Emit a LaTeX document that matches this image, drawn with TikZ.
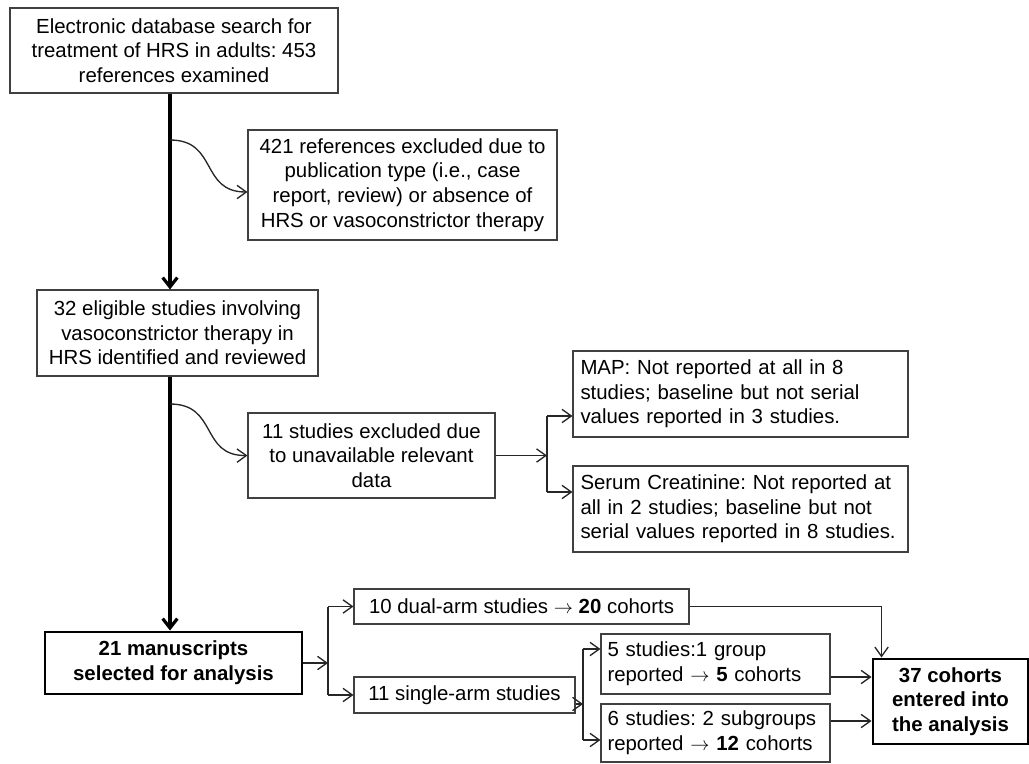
\documentclass[tikz,border=0pt]{standalone}
\usepackage{fontspec}
\setmainfont{Liberation Sans}
\usetikzlibrary{arrows.meta,calc}
\newcommand{\rarr}{ $\rightarrow$ }
\begin{document}
\begin{tikzpicture}[x=0.75pt,y=-0.75pt,
  font=\fontsize{15.3}{18.5}\selectfont\frenchspacing,
  box/.style={draw=black!75, line width=0.8pt, inner sep=0pt, align=center},
  lbox/.style={draw=black!75, line width=0.8pt, inner sep=0pt, align=left},
  tbox/.style={draw=black, line width=2.2pt, inner sep=0pt, align=center, font=\fontsize{15.3}{18.5}\selectfont\frenchspacing\bfseries},
  conn/.style={draw=black!85, line width=1pt, -{Straight Barb[length=7pt,width=10pt]}},
  tconn/.style={draw=black, line width=2.4pt, -{Straight Barb[length=7pt,width=11pt]}},
  plain/.style={draw=black!85, line width=1pt}
]
\useasboundingbox (0,0) rectangle (1029,764);

% boxes
\node[box, minimum width=246pt, minimum height=63.75pt] (b1) at (174,50.5)
  {Electronic database search for\\treatment of HRS in adults: 453\\references examined};
\node[box, minimum width=231.75pt, minimum height=82.5pt] (ex1) at (402.5,185)
  {421 references excluded due to\\publication type (i.e., case\\report, review) or absence of\\HRS or vasoconstrictor therapy};
\node[box, minimum width=210.75pt, minimum height=64.5pt] (b2) at (177.5,333)
  {32 eligible studies involving\\vasoconstrictor therapy in\\HRS identified and reviewed};
\node[box, minimum width=185.25pt, minimum height=63.75pt] (ex2) at (371.5,455.5)
  {11 studies excluded due\\to unavailable relevant\\data};
\node[lbox, text width=240pt, minimum width=251.25pt, minimum height=64.5pt] (map) at (740.5,394)
  {MAP: Not reported at all in 8\\studies; baseline but not serial\\values reported in 3 studies.};
\node[lbox, text width=240pt, minimum width=251.25pt, minimum height=64.5pt] (serum) at (740.5,509)
  {Serum Creatinine: Not reported at\\all in 2 studies; baseline but not\\serial values reported in 8 studies.};
\node[tbox, minimum width=192.75pt, minimum height=46.5pt] (manu) at (173.5,663)
  {21 manuscripts\\selected for analysis};
\node[box, minimum width=251.25pt, minimum height=26.25pt] (dual) at (521.5,606.5)
  {10 dual-arm studies\rarr\textbf{20} cohorts};
\node[box, minimum width=165.75pt, minimum height=27pt] (single) at (464.5,695)
  {11 single-arm studies};
\node[lbox, text width=162pt, minimum width=171.75pt, minimum height=45pt] (five) at (715.5,664)
  {5 studies:1 group\\reported\rarr\textbf{5} cohorts};
\node[lbox, text width=162pt, minimum width=171.75pt, minimum height=43.5pt] (six) at (715.5,733)
  {6 studies: 2 subgroups\\reported\rarr\textbf{12} cohorts};
\node[tbox, minimum width=116.25pt, minimum height=63.75pt] (c37) at (950.5,701.5)
  {37 cohorts\\entered into\\the analysis};

% main spine
\coordinate (tap) at (170,0);
\draw[tconn] (b1.south -| tap) -- (b2.north -| tap);
\draw[tconn] (b2.south -| tap) -- (manu.north -| tap);

% curved exclusions
\coordinate (c1s) at (170,140);
\coordinate (c1e) at ($(ex1.west)+(0,7)$);
\draw[conn] (c1s) .. controls (218,140) and (200,192) .. (c1e);
\coordinate (c2s) at (170,404);
\coordinate (c2e) at (ex2.west);
\draw[conn] (c2s) .. controls (218,404) and (200,456) .. (c2e);

% split of exclusions
\coordinate (br1) at (547,455.5);
\coordinate (br1t) at (547,416);
\coordinate (br1b) at (547,492);
\draw[conn] (ex2.east) -- (br1);
\draw[plain] (br1t) -- (br1b);
\draw[conn] (br1t) -- (br1t -| map.west);
\draw[conn] (br1b) -- (br1b -| serum.west);

% split of manuscripts
\coordinate (br2) at (328,663);
\coordinate (br2t) at (328,606.5);
\coordinate (br2b) at (328,695);
\draw[conn] (manu.east) -- (br2);
\draw[plain] (br2t) -- (br2b);
\draw[conn] (br2t) -- (dual.west);
\draw[conn] (br2b) -- (single.west);

% split of single-arm
\coordinate (s3) at ($(single.east)+(0,9)$);
\coordinate (br3) at (583,704);
\coordinate (br3t) at (583,649);
\coordinate (br3b) at (583,740);
\draw[conn] (s3) -- (br3);
\draw[plain] (br3t) -- (br3b);
\draw[conn] (br3t) -- (br3t -| five.west);
\draw[conn] (br3b) -- (br3b -| six.west);

% into final box
\coordinate (d37) at ($(c37.north west)+(10,0)$);
\draw[conn] (dual.east) -| (d37);
\coordinate (f5) at ($(five.east)+(0,13)$);
\draw[conn] (f5) -- (f5 -| c37.west);
\coordinate (f6) at ($(six.east)+(0,-12)$);
\draw[conn] (f6) -- (f6 -| c37.west);
\end{tikzpicture}
\end{document}
